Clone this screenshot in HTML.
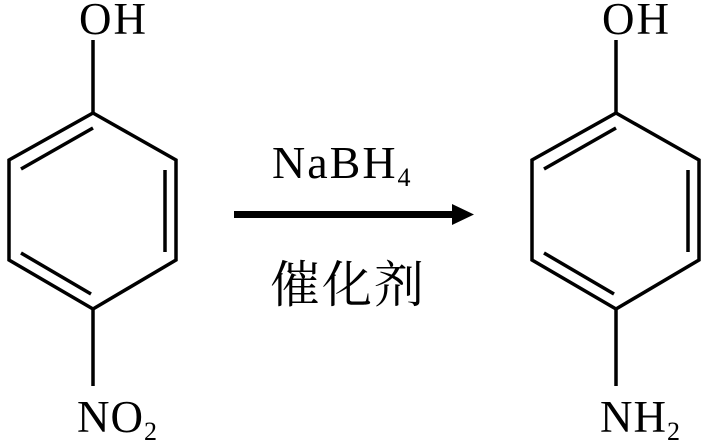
<!DOCTYPE html>
<html><head><meta charset="utf-8"><style>
html,body{margin:0;padding:0;background:#fff;width:708px;height:441px;overflow:hidden}
</style></head><body>
<svg width="708" height="441" viewBox="0 0 708 441" xmlns="http://www.w3.org/2000/svg">
<defs>
<g id="ring" stroke="#000" stroke-width="3.5" fill="none" stroke-linejoin="miter">
<polygon points="93,113 176,160 176,260 93,309 9,260 9,160"/>
<line x1="93" y1="128" x2="21" y2="169"/>
<line x1="165" y1="170" x2="165" y2="252"/>
<line x1="21" y1="253" x2="91" y2="294"/>
<line x1="93" y1="40" x2="93" y2="113"/>
<line x1="93" y1="309" x2="93" y2="386"/>
</g>
</defs>
<use href="#ring"/>
<use href="#ring" transform="translate(523,0)"/>
<g font-family="Liberation Serif, serif" fill="#000">
<text x="79" y="34" font-size="45" letter-spacing="2">OH</text>
<text x="602" y="34" font-size="45" letter-spacing="2">OH</text>
<text x="77" y="432" font-size="45" letter-spacing="1">NO<tspan font-size="26" dy="8">2</tspan></text>
<text x="600" y="432" font-size="45" letter-spacing="1">NH<tspan font-size="26" dy="8">2</tspan></text>
<text x="272" y="178" font-size="46" letter-spacing="2">NaBH<tspan font-size="26" dy="8">4</tspan></text>
</g>
<text x="270" y="302" font-size="50" letter-spacing="2" font-family="Noto Serif CJK SC, Noto Sans CJK SC, serif">催化剂</text>
<rect x="234" y="211" width="222" height="7" fill="#000"/>
<polygon points="452,204 474,214.5 452,225" fill="#000"/>
</svg>
</body></html>
